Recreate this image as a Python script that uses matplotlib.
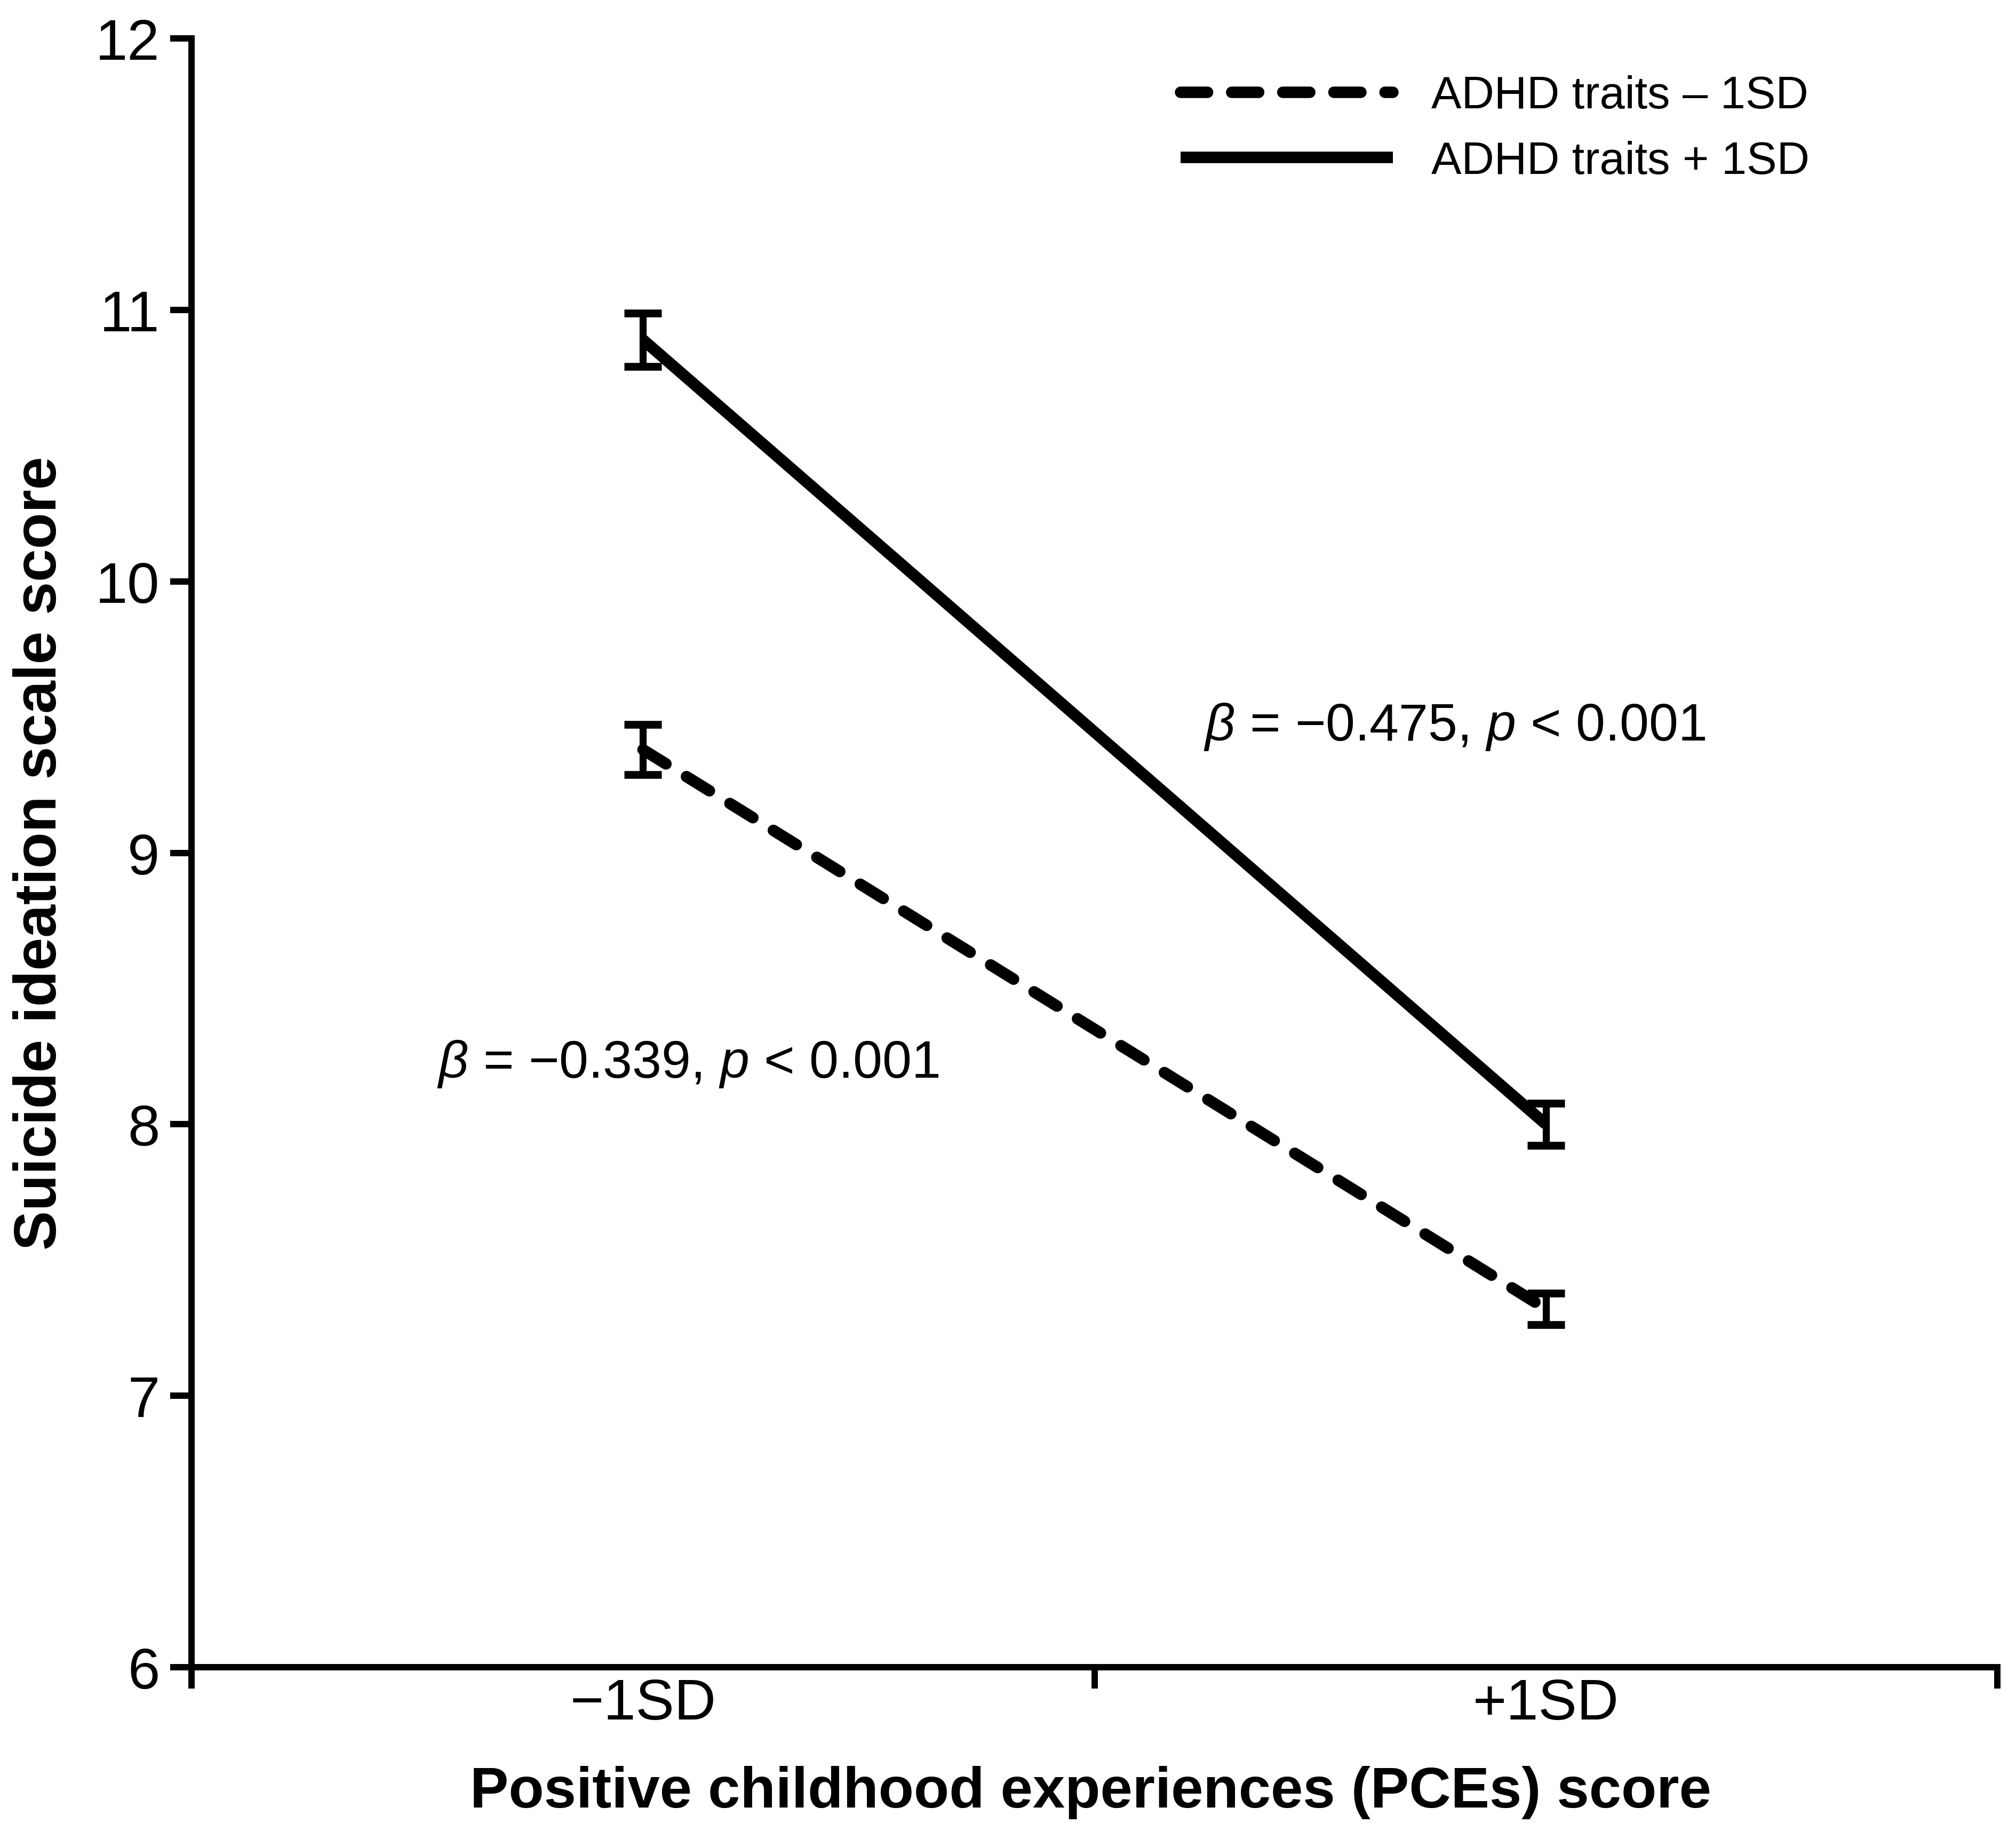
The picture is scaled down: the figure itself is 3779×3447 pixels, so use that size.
import numpy as np
import matplotlib
matplotlib.use("Agg")
import matplotlib.pyplot as plt

plt.rcParams["font.family"] = ["Liberation Sans", "DejaVu Sans"]
plt.rcParams["mathtext.fontset"] = "custom"
plt.rcParams["mathtext.rm"] = "Liberation Sans"
plt.rcParams["mathtext.it"] = "Liberation Sans:italic"

# PCEs level (-1SD / +1SD)
pce_labels = ["\u22121SD", "+1SD"]
pce_pos = [0.5, 1.5]

# suicide ideation score, ADHD traits -1SD and +1SD
low_adhd = [9.38, 7.32]
low_err = [0.093, 0.058]
high_adhd = [10.89, 8.00]
high_err = [0.098, 0.078]

fig = plt.figure(figsize=(37.8, 34.48), dpi=100)
ax = fig.add_axes([0.095, 0.0934, 0.8955, 0.8854])

lw = 15.5
ax.plot(pce_pos, low_adhd, color="black", lw=lw, ls=(0, (2.35, 2.1)),
        dash_capstyle="round", label="ADHD traits \u2013 1SD")
ax.plot(pce_pos, high_adhd, color="black", lw=lw, solid_capstyle="butt",
        label="ADHD traits + 1SD")
ax.errorbar(pce_pos, low_adhd, yerr=low_err, fmt="none", ecolor="black",
            elinewidth=9.5, capsize=25, capthick=10.5)
ax.errorbar(pce_pos, high_adhd, yerr=high_err, fmt="none", ecolor="black",
            elinewidth=9.5, capsize=25, capthick=10.5)

ax.set_xlim(0, 2)
ax.set_ylim(6, 12)
ax.set_yticks(np.arange(6, 13, 1))
ax.set_xticks([0, 1, 2])
ax.set_xticklabels([])
ax.set_xticks(pce_pos, minor=True)
ax.set_xticklabels(pce_labels, minor=True)

for s in ["top", "right"]:
    ax.spines[s].set_visible(False)
for s in ["left", "bottom"]:
    ax.spines[s].set_linewidth(8.6)

ax.tick_params(axis="both", which="major", width=8.6, length=29,
               labelsize=78, pad=14)
ax.tick_params(axis="x", which="minor", length=0, labelsize=78, pad=14)

ax.set_xlabel("Positive childhood experiences (PCEs) score", fontsize=78,
              fontweight="bold", va="baseline")
ax.xaxis.set_label_coords(0.498, -0.0858)
ax.set_ylabel("Suicide ideation scale score", fontsize=80,
              fontweight="bold", va="center")
ax.yaxis.set_label_coords(-0.0836, 0.5)

ax.text(1.121, 9.416, "$\\beta$ = \u22120.475, $p$ < 0.001",
        fontsize=71, ha="left", va="baseline")
ax.text(0.272, 8.173, "$\\beta$ = \u22120.339, $p$ < 0.001",
        fontsize=71, ha="left", va="baseline")

ax.legend(loc="upper left", bbox_to_anchor=(0.5855, 0.959),
          bbox_transform=fig.transFigure, frameon=False, fontsize=61,
          handlelength=4.7, handletextpad=0.85, labelspacing=0.5,
          borderpad=0, borderaxespad=0)

fig.savefig("out.png", dpi=100)
